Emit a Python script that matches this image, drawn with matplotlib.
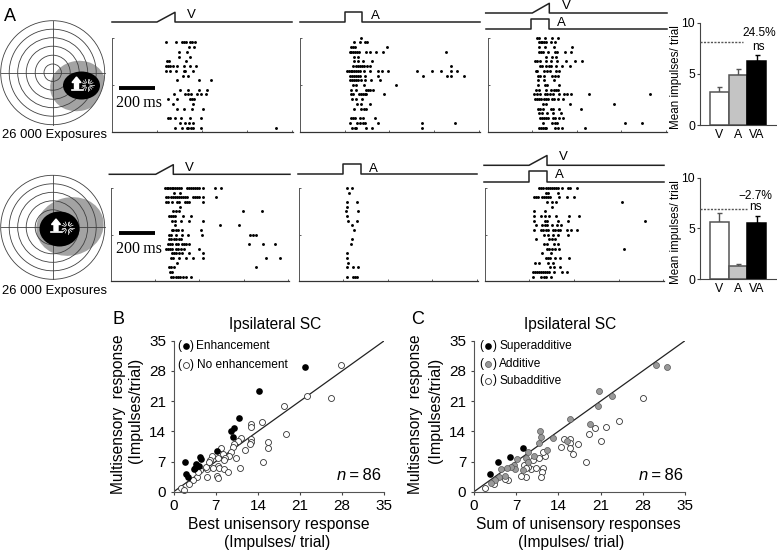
import matplotlib
matplotlib.use('Agg')
import matplotlib.pyplot as plt
from matplotlib.patches import Circle, Ellipse

plt.rcParams['font.family'] = ['Liberation Sans', 'DejaVu Sans']

W, H = 777, 553

# raster data, spikes per trial, top row is trial 20, time is in raster units with 0 at stimulus onset
raster_v1 = [[], [29,58,77,83,89,99,107,114], [97,113], [68,90], [68,99], [30,38,87],
             [27,33,39,48,62,83,99,117], [28,40,59,81,86,110], [79,95], [62,126,161], [],
             [69,94,127,149], [51,85,93,102,120,134,147], [35,60,100,107,113], [50,110],
             [60,83,106,137], [], [33,40,55,72,100,132], [71,85,98,110],
             [55,77,90,95,102,108,132,357]]
raster_a1 = [[49], [29,47,62,69], [20,26,32,128], [16,21,26,32,38,44,65,76,96,117,305], [28,41],
             [28,42,56,82], [25,35,41,48,54,60,68,78,320],
             [7,13,19,24,29,35,41,48,60,76,102,113,132,219,264,290,320,339],
             [17,22,28,34,40,48,62,102,236,309,320,359], [18,24,30,36,42,50,62,81,108],
             [26,35,58,155], [21,36,64,70,76,85], [19,26,44,50,56,62,66,118], [24,36,52],
             [37,49,77], [29,51,58,65], [], [19,26,33,47,55,92], [17,38,48,56,62,101,234,333],
             [23,31,35,64,82,232]]
raster_va1 = [[14,20,39,59,78], [21,26,31,36,42,58,69], [20,39,66,122], [21,26,32,49,68,74,100,117],
              [42,61,72], [10,16,23,41,56,74,102,129,150], [25,31,41,51,58,73,91,116],
              [11,16,35,45,55,71,83], [18,25,36,59,68,79], [18,36,67], [19,39,45,81],
              [11,21,41,58,65,72,78], [7,16,25,40,46,53,63,82,96,106,118,173,356],
              [8,15,22,28,35,41,48,59,66,78,95], [33,41,114,248], [18,23,33,56,63,83,149],
              [20,29,45,63,87], [25,31,36,42,48,63,70,81,95], [32,61,68,76,281,332],
              [21,26,32,38,43,68,78,91,160]]
raster_v2 = [[31,36,41,46,51,56,61,68,73,80,99,105,111,116,122,128,133,147,184,200], [58,76],
             [33,40,50,55,60,68,73,80,85,91,98,115,122,128,135,147,186],
             [34,41,53,68,73,91,98,105,145], [76], [56,63,73,268,325], [43,48,55,60,86,111],
             [51,61,78,103,145], [61,199,256], [51,55,63,70,82,140],
             [43,49,65,81,100,142,288,298,308], [43,50,58,65,73,80],
             [40,45,53,63,70,81,88,93,103,286,328,365], [33,40,46,53,63,70,78,88,133],
             [51,58,65,73,83,103,145], [48,55,73,96,115,145,338,380], [66], [43,50,58,308],
             [46,53], [50,56,63,70,77,85,93,111]]
raster_a2 = [[12,27], [17], [], [13,41], [13], [10,44], [12], [14,43], [26], [32], [], [27], [25],
             [], [12], [12], [14], [12,30,46], [], [12,29,36,43]]
raster_va2 = [[29,35,40,50,56,62,68,74,80,87,100,116,122,145], [51,57,86],
              [15,21,27,39,45,51,57,63,90,115,134], [52,67,80,282], [68], [14,48],
              [14,35,48,60,79,120,150], [14,47,54,85,117,350], [19,39,47,54,69,82,97],
              [14,35,42,50,57,71,78,85,93,113,127,145], [44,55,72,88,118], [20,60,67,77],
              [44,52,75,87], [52,58,69,78,90,287], [39,64], [49,55,62,77,93,120], [16,28,55,72],
              [62,75,92], [10,16,22,28,34,40,46,52,59,75,98,114], [12,36,44,51,65]]

# bar charts
bar_labels = ['V', 'A', 'VA']
bars_top = [3.2, 4.9, 6.3]
bars_top_err = [0.5, 0.6, 0.5]
sum_top = 8.15
bars_bottom = [5.65, 1.25, 5.55]
bars_bottom_err = [0.9, 0.25, 0.65]
sum_bottom = 6.95

# scatter B
enh_x = [21.9,14.2,10.8,10.0,9.6,9.9,7.2,4.3,4.5,1.9,3.7,4.2,3.3,3.6,2.0,2.4]
enh_y = [28.9,23.3,17.0,14.8,14.1,12.6,9.4,8.0,7.5,7.0,6.4,5.9,5.3,5.6,4.0,3.5]
noenh_x = [27.8,22.2,26.2,18.4,18.6,14.6,12.8,12.8,15.7,15.6,14.9,12.9,12.8,12.7,11.9,11.2,10.7,
           10.0,9.8,9.6,11.1,10.4,7.8,8.2,9.2,8.6,8.4,7.3,6.3,6.1,7.4,7.5,8.3,9.0,6.5,5.6,5.5,
           7.2,7.3,5.3,4.4,3.8,3.2,2.6,1.2,1.7,4.1,5.9]
noenh_y = [29.4,22.1,21.7,19.9,13.3,16.2,15.7,15.1,11.5,10.2,6.8,12.2,11.6,11.0,9.7,12.4,11.7,
           11.1,10.3,9.3,5.6,7.9,10.1,8.7,8.3,7.9,7.3,7.7,8.2,7.3,6.0,5.4,5.2,4.6,5.4,5.2,3.5,
           3.6,3.2,5.7,5.0,3.5,2.8,1.9,0.9,0.5,4.6,6.8]

# scatter C
super_x = [2.6,3.9,5.9,8.1]
super_y = [4.0,7.0,8.0,10.2]
add_x = [30.2,32.0,20.7,22.9,20.6,15.9,19.2,10.9,11.1,13.1,10.7,15.4,12.1,8.9,10.0,7.2,8.7,9.0,
         6.6,8.1,6.8,6.2,5.4,4.5,5.1,4.1,3.5,2.9]
add_y = [29.4,29.0,23.3,22.2,19.9,16.9,15.7,14.1,12.7,12.4,11.2,11.7,9.7,9.3,8.3,7.5,7.7,7.0,
         6.3,5.0,5.3,5.8,5.6,5.2,3.7,3.5,2.7,2.1]
sub_x = [28.0,24.0,21.9,20.0,19.1,21.0,18.6,14.9,15.9,15.9,17.2,14.5,15.9,16.4,11.8,11.4,10.7,
         9.8,8.3,9.5,10.3,11.5,11.2,11.1,8.7,7.8,5.7,5.1,3.4,1.8,9.0,8.7]
sub_y = [21.7,16.3,15.1,14.8,13.3,11.8,6.8,12.3,12.2,11.4,11.1,10.4,10.2,8.7,8.2,9.3,7.9,7.3,
         6.3,5.3,5.5,5.6,4.5,3.3,3.5,3.7,2.6,2.9,1.9,0.8,5.8,5.4]
scatter_ticks = [0, 7, 14, 21, 28, 35]

fig = plt.figure(figsize=(W / 100, H / 100), dpi=100)


def ax_px(x0, y0, x1, y1):
    # axes from pixel box of the picture
    return fig.add_axes([x0 / W, 1 - y1 / H, (x1 - x0) / W, (y1 - y0) / H])


# overlay in pixels for the schematic parts
ov = fig.add_axes([0, 0, 1, 1], zorder=5)
ov.set_xlim(0, W)
ov.set_ylim(H, 0)
ov.axis('off')
ov.patch.set_alpha(0)

ring_col = '#404040'


def bullseye(cx, cy, grey, black, arrow_x, arrow_y, star_x, star_y):
    r_out = 52
    outer = Circle((cx, cy), r_out, fc='none', ec=ring_col, lw=0.6, zorder=3)
    ov.add_patch(outer)
    g = Ellipse(grey[:2], grey[2], grey[3], angle=grey[4], fc='#a3a3a3', ec='none', zorder=1)
    ov.add_patch(g)
    g.set_clip_path(Circle((cx, cy), r_out, transform=ov.transData))
    for r in [8.7, 17.5, 26.5, 35, 43.5]:
        ov.add_patch(Circle((cx, cy), r, fc='none', ec=ring_col, lw=0.6, zorder=2))
    ov.plot([cx - r_out, cx + r_out], [cy, cy], color=ring_col, lw=0.6, zorder=2)
    ov.plot([cx, cx], [cy - r_out, cy + r_out], color=ring_col, lw=0.6, zorder=2)
    ov.add_patch(Ellipse(black[:2], black[2], black[3], fc='black', ec='none', zorder=4))
    # arrow
    ax_, ay = arrow_x, arrow_y
    ov.fill([ax_, ax_ + 4.5, ax_ + 2, ax_ + 2, ax_ - 2, ax_ - 2, ax_ - 4.5],
            [ay - 7, ay - 1.5, ay - 1.5, ay + 5, ay + 5, ay - 1.5, ay - 1.5], color='white', zorder=5)
    ov.plot([ax_ - 5, ax_ + 6], [ay + 6, ay + 6], color='white', lw=1.2, zorder=5)
    # star
    dirs = [(1, 0), (.7, .7), (0, 1), (-.7, .7), (-1, 0), (-.7, -.7), (0, -1), (.7, -.7), (.92, .38),
            (.38, .92), (-.38, .92), (-.92, .38), (-.92, -.38), (-.38, -.92), (.38, -.92), (.92, -.38)]
    for dx, dy in dirs:
        ov.plot([star_x + 2.5 * dx, star_x + 6 * dx], [star_y + 2.5 * dy, star_y + 6 * dy],
                color='white', lw=0.5, zorder=5)


bullseye(52.7, 72.7, (78, 86, 56, 50, -15), (81.5, 85.5, 37, 28), 76.5, 84, 87.5, 85)
bullseye(52.7, 227.3, (70, 226.5, 68, 58, -15), (59.5, 229, 40, 35), 56, 226, 67.5, 227.5)
ov.text(54, 135, '26 000 Exposures', fontsize=9.4, ha='center', va='center')
ov.text(55, 290.7, '26 000 Exposures', fontsize=9.4, ha='center', va='center')


def v_trace(x0, x_on, x_off, x1, y, y_top, col='#222222'):
    ov.plot([x0, x_on, x_off, x_off, x1], [y, y, y_top, y, y], color=col, lw=1.1)


def a_trace(x0, x_on, x_off, x1, y, y_top, col='#222222'):
    ov.plot([x0, x_on, x_on, x_off, x_off, x1], [y, y, y_top, y_top, y, y], color=col, lw=1.1)


v_trace(112, 157, 175, 292, 22, 12.3)
a_trace(300, 344.7, 362, 480, 22, 12)
v_trace(485.7, 532.3, 549.3, 667, 13, 3.3)
a_trace(485.7, 530.7, 549, 667, 29, 19)
v_trace(109.3, 155.7, 173.3, 290, 174.3, 164.7)
a_trace(297.7, 342.7, 360.7, 477, 174.3, 164.3)
v_trace(484, 529, 547, 664, 165.3, 155.5)
a_trace(484, 528.7, 547, 664, 181.7, 171.3)

for x, y, s in [(191, 15, 'V'), (375, 16, 'A'), (566, 6, 'V'), (561, 23, 'A'),
                (189, 168, 'V'), (373, 169, 'A'), (563.3, 157, 'V'), (559, 175, 'A')]:
    ov.text(x, y, s, fontsize=9.5, ha='center', va='center')

# 200 ms scale bars
for y_bar, y_txt in [(87.7, 103), (233, 249)]:
    ov.plot([119, 155], [y_bar, y_bar], color='black', lw=2.8, solid_capstyle='butt')
    ov.text(139, y_txt, '200\u2009ms', family='Liberation Serif', fontsize=11.5, ha='center', va='center')

ov.text(10.3, 16.7, 'A', fontsize=13, ha='center', va='center')
ov.text(119, 320, 'B', fontsize=13, ha='center', va='center')
ov.text(418, 320, 'C', fontsize=13, ha='center', va='center')


def raster(rows, x0, y0, x1, y1):
    ax = ax_px(x0, y0, x1, y1)
    for i, row in enumerate(rows):
        ax.plot(row, [20 - i] * len(row), 'o', color='black', ms=2.1, mew=0, clip_on=False)
    ax.set_xlim(-134, 408)
    ax.set_ylim(0, 20)
    ax.set_xticks([0, 135, 270, 405])
    ax.set_yticks([0, 10, 20])
    ax.set_xticklabels([])
    ax.set_yticklabels([])
    ax.tick_params(direction='in', length=1.5, width=0.6, colors='#444444')
    ax.spines['top'].set_visible(False)
    ax.spines['right'].set_visible(False)
    ax.spines['left'].set_color('#555555')
    ax.spines['left'].set_linewidth(0.7)
    ax.spines['bottom'].set_color('#333333')
    ax.spines['bottom'].set_linewidth(0.9)


raster(raster_v1, 112, 37.7, 293, 132.3)
raster(raster_a1, 300, 37.7, 480, 132.3)
raster(raster_va1, 487.7, 37.7, 667, 132.3)
raster(raster_v2, 110.7, 188, 289.3, 281.3)
raster(raster_a2, 299, 188, 477.7, 281.3)
raster(raster_va2, 485.3, 188, 664, 281.3)


def bars(vals, errs, dash, y0, y1, dash_end, pct, pct_x, pct_y, ns_x, ns_y, lab_x, lab_y):
    ax = ax_px(700, y0, 776.7, y1)
    xs = [1, 2, 3]
    fills = ['white', '#c4c4c4', 'black']
    edges = ['#555555', '#555555', 'black']
    ax.bar(xs, vals, width=1, color=fills, edgecolor=edges, linewidth=1.1, zorder=2)
    for x, v, e, c in zip(xs, vals, errs, edges):
        ax.errorbar(x, v, yerr=[[0], [e]], color=c, capsize=1.8, lw=1, capthick=1, zorder=1)
    ax.set_xlim(-0.035, 4.07)
    ax.set_ylim(0, 10)
    ax.plot([-0.035, (dash_end - 710) / 18.7 + 0.5], [dash, dash], color='#555555', lw=1,
            dashes=(1.5, 1), zorder=3)
    ax.set_xticks(xs)
    ax.set_xticklabels(bar_labels, fontsize=8.8)
    ax.set_yticks([0, 5, 10])
    ax.tick_params(axis='y', labelsize=8.8, length=2.5, width=0.8, pad=1, color='#444444')
    ax.tick_params(axis='x', length=0, pad=3)
    ax.spines['top'].set_visible(False)
    ax.spines['right'].set_visible(False)
    ax.spines['left'].set_color('#444444')
    ax.spines['bottom'].set_color('#444444')
    ax.patch.set_alpha(0)
    ov.text(pct_x, pct_y, pct, fontsize=8.6, ha='center', va='center')
    ov.text(ns_x, ns_y, 'ns', fontsize=8.6, ha='center', va='center')
    ov.text(lab_x, lab_y, 'Mean impulses/ trial', fontsize=8.4, rotation=90, ha='center', va='center')


bars(bars_top, bars_top_err, sum_top, 22.7, 125, 743, '24.5%', 759, 33, 758, 47, 676.5, 77)
bars(bars_bottom, bars_bottom_err, sum_bottom, 177.7, 279, 746.7, '\u22122.7%', 755.7, 196, 755.7, 207, 675.5, 231.7)


def scatter_axes(x0, x1):
    ax = ax_px(x0, 340.7, x1, 491.7)
    ax.plot([0, 35], [0, 35], color='#222222', lw=0.9, zorder=1)
    ax.set_xlim(0, 35)
    ax.set_ylim(0, 35)
    ax.set_xticks(scatter_ticks)
    ax.set_yticks(scatter_ticks)
    ax.tick_params(labelsize=11, length=2.5, width=0.8, pad=3, color='#444444')
    ax.spines['top'].set_visible(False)
    ax.spines['right'].set_visible(False)
    ax.spines['left'].set_color('#555555')
    ax.spines['bottom'].set_color('#555555')
    ax.patch.set_alpha(0)
    return ax


def dots(ax, x, y, kind):
    if kind == 'black':
        ax.plot(x, y, 'o', color='black', ms=4.8, mew=0, clip_on=False, zorder=3)
    elif kind == 'grey':
        ax.plot(x, y, 'o', mfc='#999999', mec='#555555', ms=4.3, mew=0.5, clip_on=False, zorder=3)
    else:
        ax.plot(x, y, 'o', mfc='white', mec='#333333', ms=4.3, mew=0.6, clip_on=False, zorder=2)


ax_b = scatter_axes(173.7, 384.3)
dots(ax_b, noenh_x, noenh_y, 'white')
dots(ax_b, enh_x, enh_y, 'black')
ax_c = scatter_axes(474, 685)
dots(ax_c, sub_x, sub_y, 'white')
dots(ax_c, add_x, add_y, 'grey')
dots(ax_c, super_x, super_y, 'black')


def legend_row(x, y, label, lab_x, kind):
    ov.text(x - 6.5, y - 0.3, '(', fontsize=8.5, ha='center', va='center')
    ov.text(x + 6.5, y - 0.3, ')', fontsize=8.5, ha='center', va='center')
    dots(ov, [x], [y], kind)
    ov.text(lab_x, y, label, fontsize=8.6, ha='left', va='center')


legend_row(185.7, 346, 'Enhancement', 196, 'black')
legend_row(185.7, 365.3, 'No enhancement', 196.7, 'white')
legend_row(488, 346, 'Superadditive', 499.3, 'black')
legend_row(488, 364.3, 'Additive', 499.3, 'grey')
legend_row(488, 380.7, 'Subadditive', 499.3, 'white')

ov.text(275, 325, 'Ipsilateral SC', fontsize=11.2, ha='center', va='center')
ov.text(570, 325, 'Ipsilateral SC', fontsize=11.2, ha='center', va='center')

ov.text(278.7, 524, 'Best unisensory response', fontsize=11.3, ha='center', va='center')
ov.text(276.7, 542, '(Impulses/ trial)', fontsize=11.2, ha='center', va='center')
ov.text(578.8, 524, 'Sum of unisensory responses', fontsize=11.2, ha='center', va='center')
ov.text(571, 542, '(Impulses/ trial)', fontsize=11.2, ha='center', va='center')

for a, b in [(118, 135), (415.7, 435.7)]:
    ov.text(a, 414, 'Multisensory  response', fontsize=11.2, rotation=90, ha='center', va='center')
    ov.text(b, 410.7, '(Impulses/trial)', fontsize=11.5, rotation=90, ha='center', va='center')

for x, y in [(345.7, 475.7), (648, 475.7)]:
    ov.text(x, y, 'n', fontsize=12, style='italic', ha='right', va='center')
    ov.text(x + 0.5, y, '\u2009=\u200986', fontsize=12, ha='left', va='center')

fig.savefig('out.png', dpi=100)
